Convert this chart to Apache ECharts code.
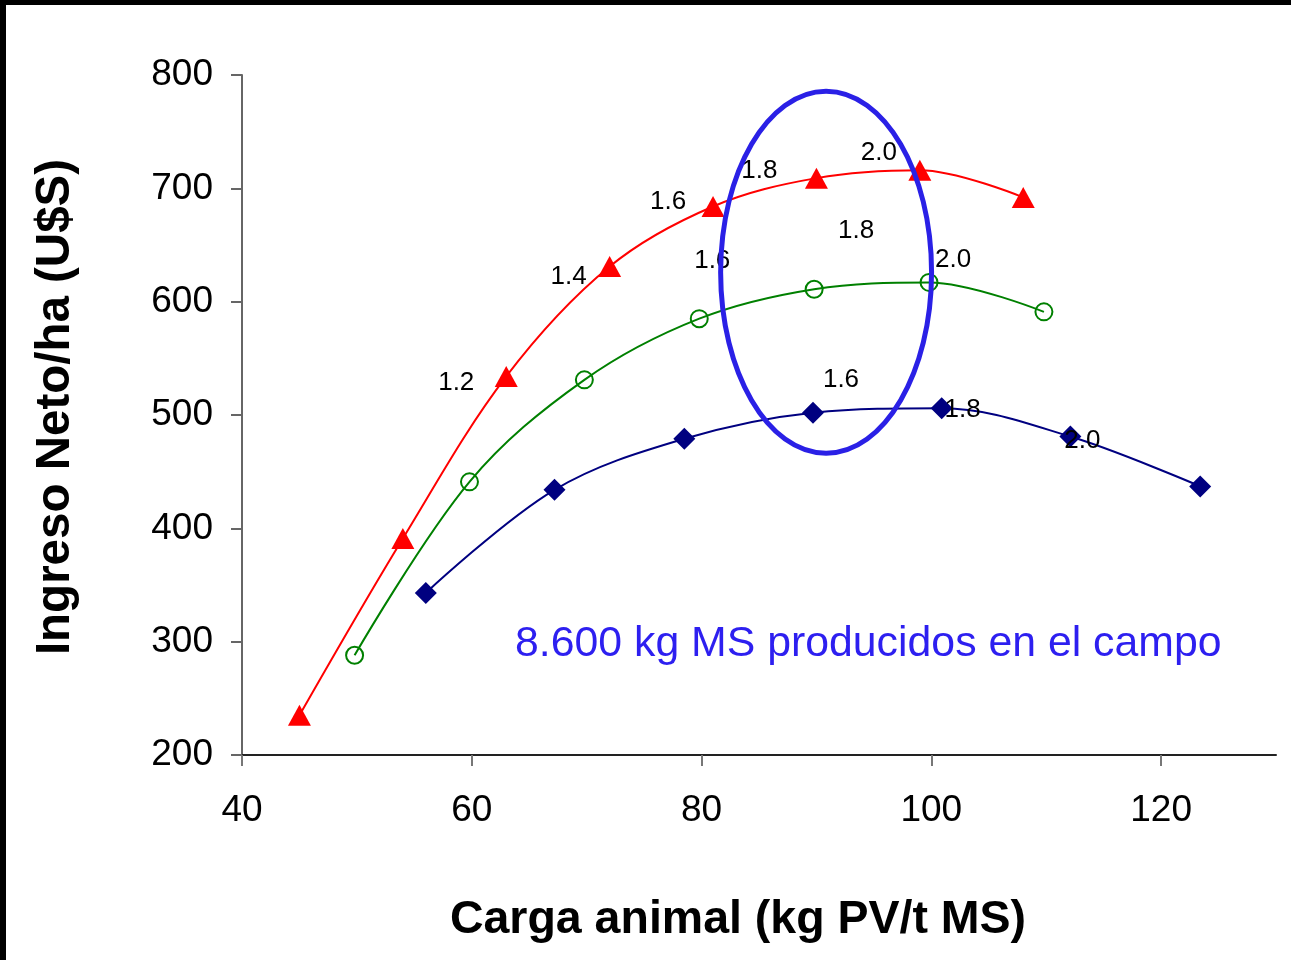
<!DOCTYPE html>
<html>
<head>
<meta charset="utf-8">
<script src="https://cdn.jsdelivr.net/npm/echarts@6/dist/echarts.min.js"></script>
<style>
  html, body { margin: 0; padding: 0; background: #fff; }
  #wrap { position: relative; width: 1291px; height: 960px; overflow: hidden; }
  #chart { position: absolute; left: 0; top: 0; width: 1291px; height: 960px; }
  .edge { position: absolute; background: #000; }
</style>
</head>
<body>
<div id="wrap">
  <div id="chart"></div>
  <div class="edge" style="left:0;top:0;width:1291px;height:5px;"></div>
  <div class="edge" style="left:0;top:0;width:6px;height:960px;"></div>
</div>
<script>
// Carga animal (kg PV/t MS) vs. ingreso neto por hectárea (U$S)
const xTicks = [40, 60, 80, 100, 120];
const yTicks = [200, 300, 400, 500, 600, 700, 800];

// Serie roja (triángulos)
const redX = [45, 54, 63, 72, 81, 90, 99, 108];
const redY = [235, 391, 534, 631, 684, 709, 716, 692];
const redTags = ['', '', '1.2', '1.4', '1.6', '1.8', '2.0', ''];

// Serie verde (círculos)
const greenX = [49.8, 59.8, 69.8, 79.8, 89.8, 99.8, 109.8];
const greenY = [288, 441, 531, 585, 611, 617, 591];
const greenTags = ['', '', '', '1.6', '1.8', '2.0', ''];

// Serie azul (rombos)
const blueX = [56, 67.2, 78.5, 89.7, 100.9, 112.1, 123.4];
const blueY = [343, 434, 479, 502, 506, 481, 437];
const blueTags = ['', '', '', '1.6', '1.8', '2.0', ''];

// Elipse que resalta la zona de máximo ingreso: centro y semiejes en unidades de los ejes
const zoneCenter = [90.84, 626];
const zoneRadii = [9.18, 159.7];

const noteText = '8.600 kg MS producidos en el campo';

// Desplazamientos (px) de las etiquetas respecto de cada marcador
const redTagOffsets = [null, null, [-50, 6], [-41, 10], [-45, -5], [-57, -7], [-41, -17], null];
const greenTagOffsets = [null, null, null, [13, -58], [42, -58], [24, -23], null];
const blueTagOffsets = [null, null, null, [28, -33], [21, 2], [12, 4], null];

const FONT = "'Liberation Sans', Arial, Helvetica, sans-serif";

function buildPoints(xs, ys, tags, offsets) {
  return xs.map((x, i) => {
    const item = { value: [x, ys[i]] };
    if (tags[i]) {
      item.label = {
        show: true,
        formatter: tags[i],
        position: 'inside',
        offset: offsets[i],
        color: '#000',
        fontFamily: FONT,
        fontSize: 26
      };
    }
    return item;
  });
}

const chart = echarts.init(document.getElementById('chart'), null, { renderer: 'canvas' });

chart.setOption({
  animation: false,
  backgroundColor: '#ffffff',
  grid: { left: 242, top: 75, right: 15, bottom: 205, containLabel: false },
  xAxis: {
    type: 'value',
    min: 40,
    max: 130,
    interval: 20,
    name: 'Carga animal (kg PV/t MS)',
    nameLocation: 'middle',
    nameGap: 142,
    nameTextStyle: { fontFamily: FONT, fontSize: 46.5, fontWeight: 'bold', color: '#000', lineHeight: 46, padding: [0, 42, 0, 0] },
    axisLine: { show: true, onZero: false, lineStyle: { color: '#222', width: 2 } },
    axisTick: { show: true, length: 11, customValues: xTicks, lineStyle: { color: '#777', width: 2 } },
    axisLabel: { customValues: xTicks, margin: 37, fontFamily: FONT, fontSize: 37, color: '#000' },
    splitLine: { show: false }
  },
  yAxis: {
    type: 'value',
    min: 200,
    max: 800,
    interval: 100,
    name: 'Ingreso Neto/ha (U$S)',
    nameLocation: 'middle',
    nameGap: 163,
    nameTextStyle: { fontFamily: FONT, fontSize: 47.5, fontWeight: 'bold', color: '#000', lineHeight: 46, padding: [0, 0, 0, 16] },
    axisLine: { show: true, onZero: false, lineStyle: { color: '#666', width: 2 } },
    axisTick: { show: true, length: 11, customValues: yTicks, lineStyle: { color: '#666', width: 2 } },
    axisLabel: { customValues: yTicks, margin: 29, fontFamily: FONT, fontSize: 37, color: '#000' },
    splitLine: { show: false }
  },
  series: [
    {
      name: 'azul',
      type: 'line',
      smooth: 0.35,
      z: 3,
      symbol: 'diamond',
      symbolSize: 22,
      lineStyle: { color: '#000080', width: 2 },
      itemStyle: { color: '#000080' },
      data: buildPoints(blueX, blueY, blueTags, blueTagOffsets)
    },
    {
      name: 'verde',
      type: 'line',
      smooth: 0.35,
      z: 3,
      symbol: 'circle',
      symbolSize: 17,
      lineStyle: { color: '#008000', width: 2 },
      itemStyle: { color: 'rgba(255,255,255,0)', borderColor: '#008000', borderWidth: 2 },
      data: buildPoints(greenX, greenY, greenTags, greenTagOffsets)
    },
    {
      name: 'rojo',
      type: 'line',
      smooth: 0.35,
      z: 3,
      symbol: 'triangle',
      symbolSize: [23, 21],
      lineStyle: { color: '#ff0000', width: 2 },
      itemStyle: { color: '#ff0000' },
      data: buildPoints(redX, redY, redTags, redTagOffsets)
    },
    {
      name: 'zona',
      type: 'custom',
      coordinateSystem: 'cartesian2d',
      z: 20,
      silent: true,
      encode: { x: 0, y: 1 },
      data: [[zoneCenter[0], zoneCenter[1], zoneRadii[0], zoneRadii[1]]],
      renderItem: function (params, api) {
        const c = api.coord([api.value(0), api.value(1)]);
        const s = api.size([api.value(2), api.value(3)]);
        return {
          type: 'ellipse',
          shape: { cx: c[0], cy: c[1], rx: s[0], ry: s[1] },
          style: { fill: null, stroke: '#2a20e6', lineWidth: 5 }
        };
      }
    }
  ],
  graphic: [
    {
      type: 'text',
      left: 515,
      top: 623,
      silent: true,
      style: { text: noteText, fontFamily: FONT, fontSize: 42.8, fill: '#2d1ff0' }
    }
  ]
});
</script>
</body>
</html>
